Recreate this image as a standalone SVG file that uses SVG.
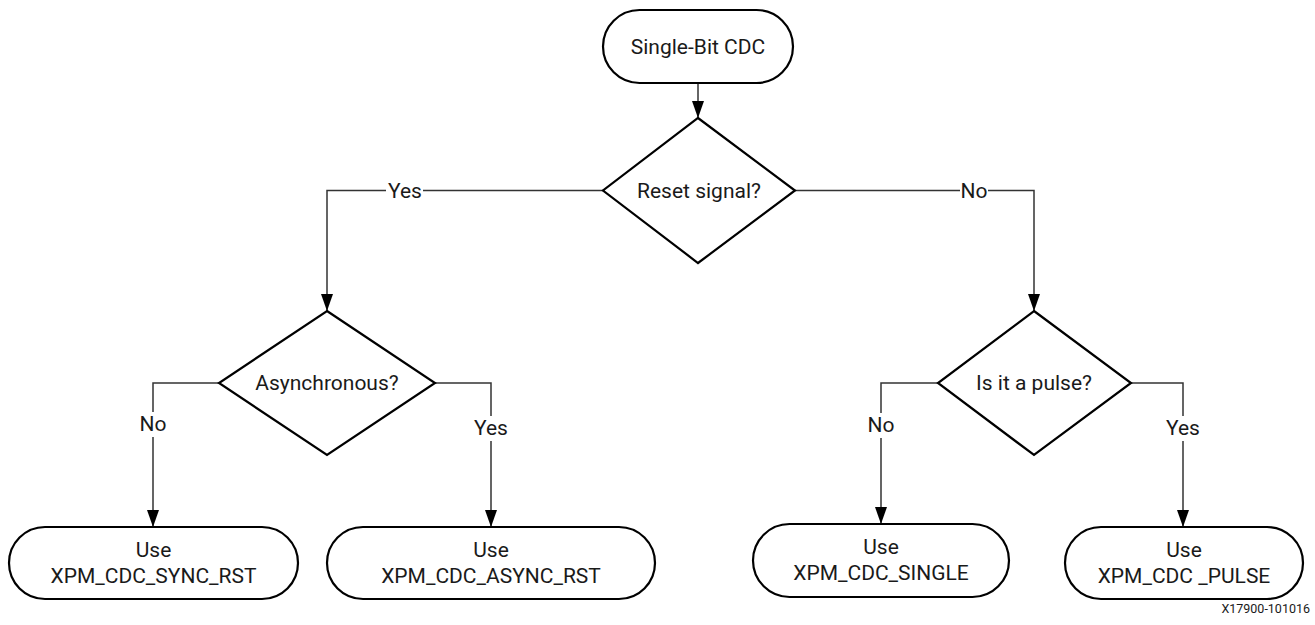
<svg xmlns="http://www.w3.org/2000/svg" width="1315" height="625" viewBox="0 0 1315 625">
  <style>
    .shape { fill: #fff; stroke: #000; stroke-width: 2.2; }
    .conn { fill: none; stroke: #333; stroke-width: 1.5; }
    .lbl-bg { fill: #fff; stroke: none; }
    text { font-family: Roboto, "Liberation Sans", sans-serif; font-size: 21px; fill: #1a1a1a; text-anchor: middle; }
    .fig { font-size: 12.5px; text-anchor: end; }
  </style>
  <defs>
    <marker id="arr" markerUnits="userSpaceOnUse" markerWidth="17" markerHeight="12" refX="17" refY="6" orient="auto" viewBox="0 0 17 12">
      <path d="M0,0 L17,6 L0,12 Z" fill="#000"/>
    </marker>
  </defs>

  <g id="connectors">
    <path class="conn" d="M698,83 V118" marker-end="url(#arr)"/>
    <path class="conn" d="M603,190.5 H327 V311" marker-end="url(#arr)"/>
    <path class="conn" d="M795,190.5 H1034 V311" marker-end="url(#arr)"/>
    <path class="conn" d="M219,383 H153 V527" marker-end="url(#arr)"/>
    <path class="conn" d="M435,383 H491 V527" marker-end="url(#arr)"/>
    <path class="conn" d="M938,383 H881 V524" marker-end="url(#arr)"/>
    <path class="conn" d="M1131,383 H1183 V527" marker-end="url(#arr)"/>

    <g id="label-reset-yes">
      <rect class="lbl-bg" x="386" y="180" width="37" height="22"/>
      <text x="405" y="198">Yes</text>
    </g>
    <g id="label-reset-no">
      <rect class="lbl-bg" x="960" y="180" width="28" height="22"/>
      <text x="974" y="198">No</text>
    </g>
    <g id="label-async-no">
      <rect class="lbl-bg" x="140" y="412" width="26" height="25"/>
      <text x="153" y="431">No</text>
    </g>
    <g id="label-async-yes">
      <rect class="lbl-bg" x="472" y="416" width="38" height="25"/>
      <text x="491" y="435">Yes</text>
    </g>
    <g id="label-pulse-no">
      <rect class="lbl-bg" x="868" y="413" width="26" height="25"/>
      <text x="881" y="432">No</text>
    </g>
    <g id="label-pulse-yes">
      <rect class="lbl-bg" x="1164" y="416" width="38" height="25"/>
      <text x="1183" y="435">Yes</text>
    </g>
  </g>

  <g id="node-start">
    <rect class="shape" x="603" y="10" width="190" height="73" rx="36.5"/>
    <text x="698" y="54">Single-Bit CDC</text>
  </g>

  <g id="node-reset">
    <polygon class="shape" points="698,118 795,190.5 698,263 603,190.5"/>
    <text x="699" y="198">Reset signal?</text>
  </g>

  <g id="node-async">
    <polygon class="shape" points="327,311 435,383 327,455 219,383"/>
    <text x="327" y="390">Asynchronous?</text>
  </g>

  <g id="node-pulse">
    <polygon class="shape" points="1034,311 1131,383 1034,455 938,383"/>
    <text x="1034" y="390">Is it a pulse?</text>
  </g>

  <g id="node-sync-rst">
    <rect class="shape" x="9" y="527" width="289" height="72" rx="36"/>
    <text x="153.5" y="557">Use</text>
    <text x="153.5" y="583">XPM_CDC_SYNC_RST</text>
  </g>

  <g id="node-async-rst">
    <rect class="shape" x="327" y="527" width="328" height="72" rx="36"/>
    <text x="491" y="557">Use</text>
    <text x="491" y="583">XPM_CDC_ASYNC_RST</text>
  </g>

  <g id="node-single">
    <rect class="shape" x="753" y="524" width="256" height="73" rx="36.5"/>
    <text x="881" y="554">Use</text>
    <text x="881" y="580">XPM_CDC_SINGLE</text>
  </g>

  <g id="node-pulse-out">
    <rect class="shape" x="1065" y="527" width="238" height="72" rx="36"/>
    <text x="1184" y="557">Use</text>
    <text x="1184" y="583">XPM_CDC _PULSE</text>
  </g>

  <text class="fig" x="1310" y="613">X17900-101016</text>
</svg>
